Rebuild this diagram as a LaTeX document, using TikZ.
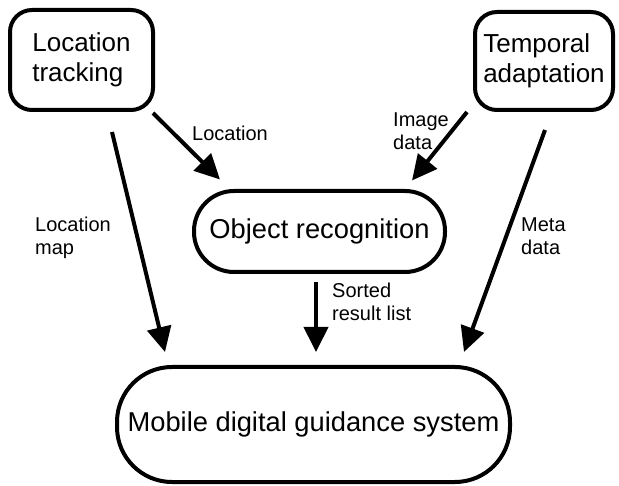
\documentclass[tikz,border=0pt]{standalone}
\usepackage{fontspec}
\setmainfont{Liberation Sans}
\usetikzlibrary{arrows.meta}
\tikzset{
  box/.style={draw=black, line width=4pt, rounded corners=22pt, inner sep=0pt, align=left,
    font=\fontsize{26}{30}\selectfont},
  pill/.style={draw=black, line width=4pt, inner sep=0pt,
    font=\fontsize{27.3}{30}\selectfont},
  arr/.style={line width=4pt, -{Triangle[length=25pt,width=24pt]}},
  lbl/.style={inner sep=0pt, anchor=base west, align=left, font=\fontsize{20}{23}\selectfont}
}
\begin{document}
\begin{tikzpicture}[x=1pt,y=-1pt]
\fill[white] (0,0) rectangle (619,486);
\useasboundingbox (0,0) rectangle (619,486);
\node[box, minimum width=143pt, minimum height=100pt] (lt) at (81.5,60) {Location\\tracking};
\node[box, minimum width=138pt, minimum height=98pt] (ta) at (544,61) {Temporal\\adaptation};
\node[pill, rounded corners=40pt, minimum width=251pt, minimum height=81pt] (or) at (319.5,231.5) {Object recognition};
\node[pill, rounded corners=55pt, minimum width=393pt, minimum height=115pt] (ms) at (313.5,424.5) {Mobile digital guidance system};

\draw[arr] ([shift={(71.5,53)}]lt.center) -- ([shift={(-99.5,-52)}]or.center);
\draw[arr] ([shift={(-77,51)}]ta.center) -- ([shift={(92.5,-51)}]or.center);
\draw[arr] ([shift={(30.5,72)}]lt.center) -- ([shift={(-148.5,-72.5)}]ms.center);
\draw[arr] ([shift={(-3.5,51)}]or.center) -- ([shift={(2.5,-72.5)}]ms.center);
\draw[arr] ([shift={(1,69)}]ta.center) -- ([shift={(150.5,-72.5)}]ms.center);

\node[lbl] (l1) at (192,141) {Location};
\node[lbl] (l2) at (393,150) {Image\\data};
\node[lbl] (l3) at (35,255) {Location\\map};
\node[lbl] (l4) at (521,255) {Meta\\data};
\node[lbl] (l5) at (332,321) {Sorted\\result list};
\end{tikzpicture}
\end{document}
